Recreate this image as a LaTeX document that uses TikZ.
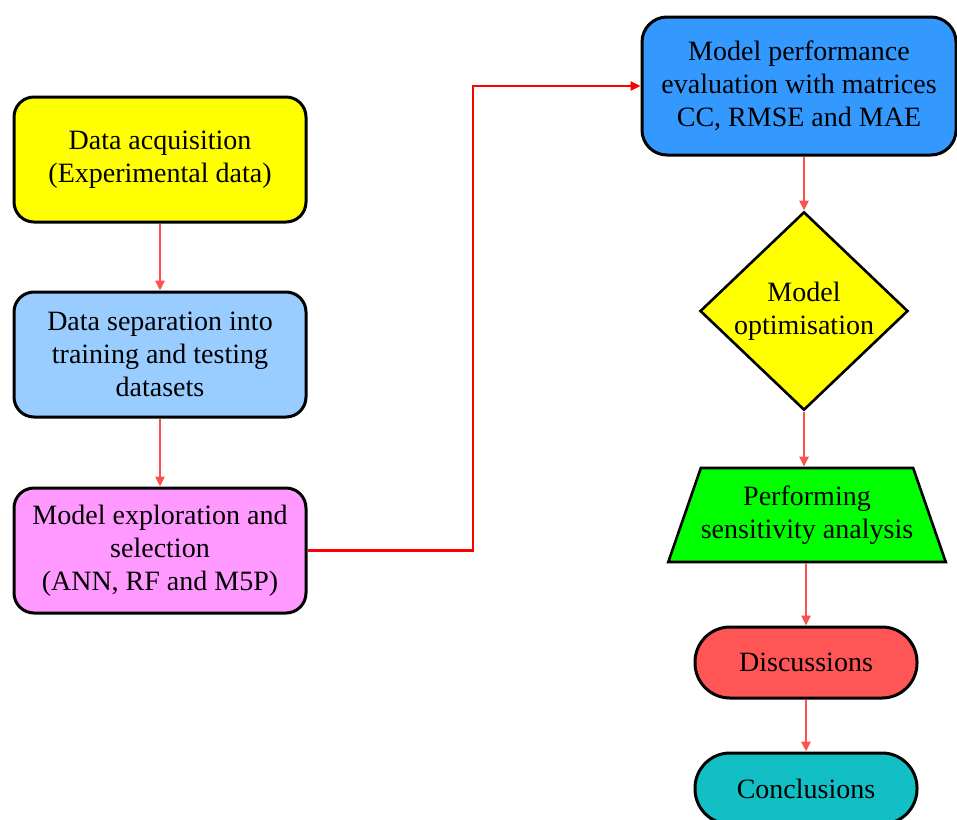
\documentclass[tikz,border=0pt]{standalone}
\usepackage{fontspec}
\setmainfont{Liberation Serif}
\usetikzlibrary{arrows.meta, shapes.geometric}

\definecolor{boxyellow}{HTML}{FFFF00}
\definecolor{boxlightblue}{HTML}{99CCFF}
\definecolor{boxpink}{HTML}{FF99FF}
\definecolor{boxblue}{HTML}{3399FF}
\definecolor{boxgreen}{HTML}{00FF00}
\definecolor{boxred}{HTML}{FF5555}
\definecolor{boxteal}{HTML}{11BFC4}
\definecolor{arrowred}{HTML}{FF5050}

\begin{document}
\begin{tikzpicture}[x=1pt, y=-1pt,
    font=\fontsize{28}{33}\selectfont,
    stepbox/.style={draw=black, line width=3pt, rounded corners=20pt, align=center,
      inner sep=0pt, minimum width=292pt, minimum height=125pt},
    stadium/.style={draw=black, line width=3pt, rounded corners=35pt, align=center,
      inner sep=0pt, minimum width=222pt, minimum height=71pt},
    flow/.style={draw=arrowred, line width=2.8pt, -{Triangle[length=10pt, width=9pt]}}]
  \useasboundingbox (0, 0) rectangle (957, 819);

  % Left column
  \node [stepbox, fill=boxyellow] (acq) at (160, 159.5) {Data acquisition\\(Experimental data)};
  \node [stepbox, fill=boxlightblue] (sep) at (160, 354.5) {Data separation into\\training and testing\\datasets};
  \node [stepbox, fill=boxpink] (explore) at (160, 550.5) {Model exploration and\\selection\\(ANN, RF and M5P)};

  % Right column
  \node [stepbox, fill=boxblue, rounded corners=25pt, minimum width=314pt, minimum height=138pt]
    (eval) at (799, 86) {Model performance\\evaluation with matrices\\CC, RMSE and MAE};
  \node [diamond, draw=black, line width=2.6pt, fill=boxyellow, align=center, inner sep=0pt,
    minimum width=208pt, minimum height=192pt] (optim) at (804, 311) {Model\\optimisation};
  \node [trapezium, trapezium angle=61, trapezium stretches body, draw=black, line width=2.6pt,
    fill=boxgreen, align=center, inner sep=0pt, minimum width=271pt, minimum height=94pt]
    (sens) at (807, 515) {Performing\\sensitivity analysis};
  \node [stadium, fill=boxred] (disc) at (806, 662.5) {Discussions};
  \node [stadium, fill=boxteal] (concl) at (806, 788.5) {Conclusions};

  % Connectors
  \draw [flow] (acq) -- (sep);
  \draw [flow] (sep) -- (explore);
  \draw [flow, draw=red] (explore.east) -- (473, 550.5) |- (eval.west);
  \draw [flow] (eval.south -| optim.north) -- (optim.north);
  \draw [flow] (optim.south) -- (optim.south |- sens.north);
  \draw [flow] (sens.south -| disc.north) -- (disc.north);
  \draw [flow] (disc) -- (concl);
\end{tikzpicture}
\end{document}
